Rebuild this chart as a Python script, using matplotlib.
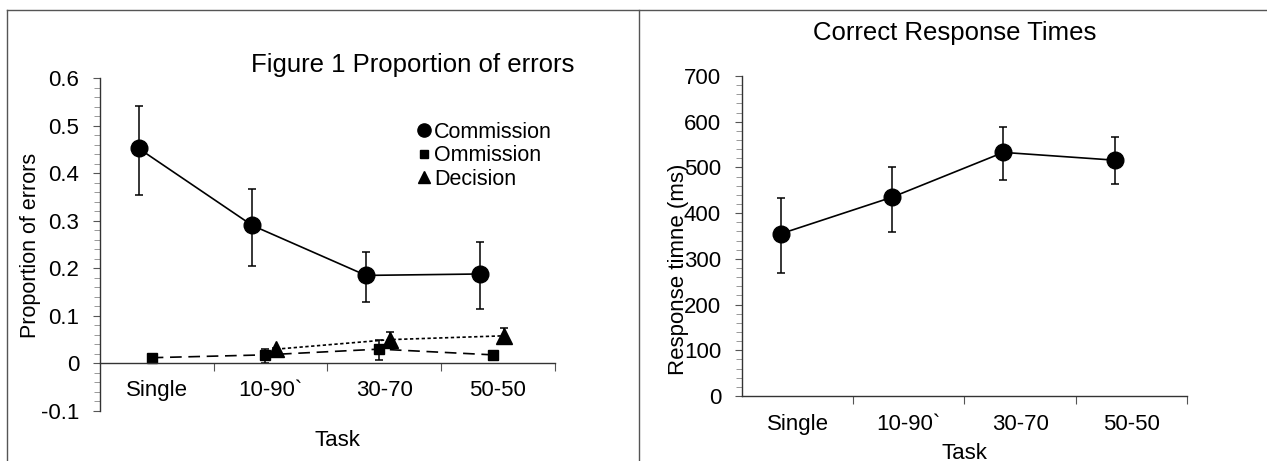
"""Recreate two-panel figure: error proportions and correct response times."""
import matplotlib
matplotlib.use("Agg")
import matplotlib.pyplot as plt
from matplotlib.lines import Line2D
from matplotlib.ticker import MultipleLocator, FixedLocator, NullFormatter
import numpy as np

plt.rcParams["font.family"] = ["Liberation Sans", "DejaVu Sans"]

tasks = ["Single", "10-90`", "30-70", "50-50"]

# proportion of errors (mean, lower, upper)
commission = [0.452, 0.290, 0.185, 0.188]
commission_lo = [0.355, 0.205, 0.130, 0.115]
commission_hi = [0.542, 0.366, 0.234, 0.255]

omission = [0.012, 0.018, 0.030, 0.018]
omission_lo = [0.008, 0.000, 0.007, 0.010]
omission_hi = [0.016, 0.030, 0.050, 0.025]

decision_tasks = [1, 2, 3]
decision = [0.030, 0.050, 0.058]
decision_lo = [0.028, 0.040, 0.044]
decision_hi = [0.032, 0.066, 0.075]

# correct response times (ms)
rt = [355, 435, 533, 516]
rt_lo = [270, 358, 473, 463]
rt_hi = [433, 500, 588, 566]

fig = plt.figure(figsize=(12.67, 4.61), dpi=100)
x = np.arange(len(tasks))


def errs(mean, lo, hi):
    mean = np.array(mean)
    return [mean - np.array(lo), np.array(hi) - mean]


def style_axes(ax, ymin, ymax, major, minor, xpad):
    ax.spines["top"].set_visible(False)
    ax.spines["right"].set_visible(False)
    ax.spines["bottom"].set_position(("data", 0))
    for s in ("left", "bottom"):
        ax.spines[s].set_color("#333333")
        ax.spines[s].set_linewidth(1.0)
    ax.set_xlim(-0.5, 3.5)
    ax.set_ylim(ymin, ymax)
    ax.yaxis.set_major_locator(MultipleLocator(major))
    ax.yaxis.set_minor_locator(MultipleLocator(minor))
    ax.tick_params(axis="y", which="major", direction="out", length=5,
                   labelsize=16, pad=10, color="#555555")
    ax.tick_params(axis="y", which="minor", direction="out", length=4,
                   color="#888888")
    # category boundary ticks, labels in the middle
    ax.xaxis.set_major_locator(FixedLocator([0.5, 1.5, 2.5, 3.5]))
    ax.xaxis.set_major_formatter(NullFormatter())
    ax.set_xticks(x, labels=tasks, minor=True)
    ax.tick_params(axis="x", which="major", direction="out", length=6,
                   color="#555555")
    ax.tick_params(axis="x", which="minor", length=0, labelsize=16, pad=xpad)


# ---- left: proportion of errors ----
ax1 = fig.add_axes([0.0789, 0.1085, 0.359, 0.7223])
style_axes(ax1, -0.1, 0.6, 0.1, 0.02, 12)
ax1.yaxis.set_major_formatter(matplotlib.ticker.FuncFormatter(
    lambda v, p: "0" if abs(v) < 1e-9 else f"{v:g}"))

ax1.errorbar(x - 0.16, commission, yerr=errs(commission, commission_lo, commission_hi),
             color="black", marker="o", ms=12, lw=1.2, elinewidth=1.1,
             capsize=3, capthick=1.1)
ax1.errorbar(x - 0.045, omission, yerr=errs(omission, omission_lo, omission_hi),
             color="black", marker="s", ms=7, lw=1.2, ls=(0, (7, 4)),
             elinewidth=1.1, capsize=3, capthick=1.1)
ax1.errorbar(np.array(decision_tasks) + 0.05, decision,
             yerr=errs(decision, decision_lo, decision_hi),
             color="black", marker="^", ms=11, lw=1.2, ls=(0, (2, 1.5)),
             elinewidth=1.1, capsize=3, capthick=1.1)

ax1.set_ylabel("Proportion of errors", fontsize=15.5)
ax1.yaxis.set_label_coords(-0.13, 0.497)
ax1.set_xlabel("Task", fontsize=16)
ax1.xaxis.label.set_va("center")
ax1.xaxis.set_label_coords(0.523, -0.09)

handles = [Line2D([], [], color="black", marker=m, ls="none", ms=s)
           for m, s in (("o", 9.5), ("s", 6), ("^", 9))]
ax1.legend(handles, ["Commission", "Ommission", "Decision"], loc="upper left",
           bbox_to_anchor=(0.68, 0.895), frameon=False, fontsize=15.5,
           handlelength=0.6, handletextpad=0.15, labelspacing=0.12,
           borderaxespad=0)

fig.text(413 / 1267, 1 - 65 / 461, "Figure 1 Proportion of errors",
         ha="center", va="center", fontsize=18.5)

# ---- right: correct response times ----
ax2 = fig.add_axes([0.5856, 0.141, 0.3512, 0.694])
style_axes(ax2, 0, 700, 100, 20, 13)

ax2.errorbar(x - 0.15, rt, yerr=errs(rt, rt_lo, rt_hi), color="black",
             marker="o", ms=12, lw=1.2, elinewidth=1.1, capsize=3,
             capthick=1.1)

ax2.set_ylabel("Response timne (ms)", fontsize=16)
ax2.yaxis.set_label_coords(-0.118, 0.397)
ax2.set_xlabel("Task", fontsize=16)
ax2.xaxis.label.set_va("center")
ax2.xaxis.set_label_coords(0.5, -0.18)

fig.text(955 / 1267, 1 - 33 / 461, "Correct Response Times",
         ha="center", va="center", fontsize=18.5)

# ---- page frame lines ----
frame = dict(color="#555555", lw=1.0, transform=fig.transFigure)
fig.add_artist(Line2D([7 / 1267, 1], [1 - 10 / 461, 1 - 10 / 461], **frame))
fig.add_artist(Line2D([7 / 1267, 7 / 1267], [0, 1 - 10 / 461], **frame))
fig.add_artist(Line2D([639 / 1267, 639 / 1267], [0, 1 - 10 / 461], **frame))

fig.savefig("out.png", dpi=100, facecolor="white")
